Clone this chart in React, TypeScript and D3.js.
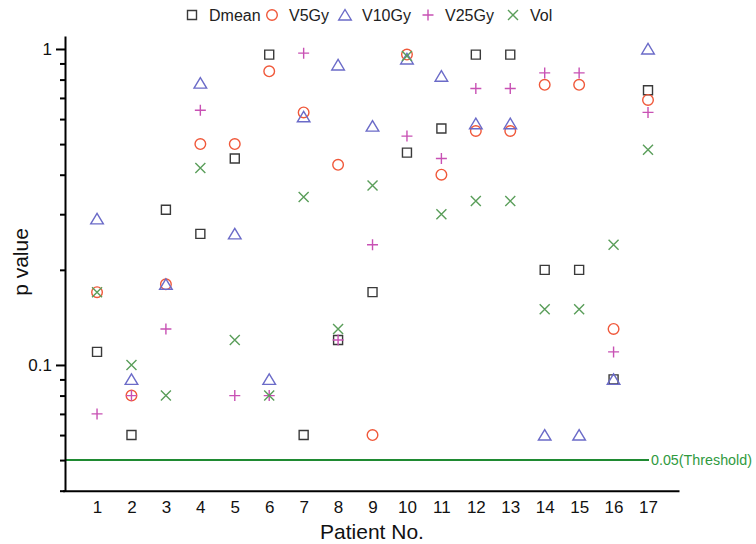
import React, { useEffect, useRef } from "react";
import * as d3 from "d3";

const patients = [1, 2, 3, 4, 5, 6, 7, 8, 9, 10, 11, 12, 13, 14, 15, 16, 17];
const dmean = [0.11, 0.06, 0.31, 0.26, 0.45, 0.96, 0.06, 0.12, 0.17, 0.47, 0.56, 0.96, 0.96, 0.2, 0.2, 0.09, 0.74];
const v5gy = [0.17, 0.08, 0.18, 0.5, 0.5, 0.85, 0.63, 0.43, 0.06, 0.96, 0.4, 0.55, 0.55, 0.77, 0.77, 0.13, 0.69];
const v10gy = [0.29, 0.09, 0.18, 0.78, 0.26, 0.09, 0.61, 0.89, 0.57, 0.93, 0.82, 0.58, 0.58, 0.06, 0.06, 0.09, 1.0];
const v25gy = [0.07, 0.08, 0.13, 0.64, 0.08, 0.08, 0.97, 0.12, 0.24, 0.53, 0.45, 0.75, 0.75, 0.84, 0.84, 0.11, 0.63];
const vol = [0.17, 0.1, 0.08, 0.42, 0.12, 0.08, 0.34, 0.13, 0.37, 0.95, 0.3, 0.33, 0.33, 0.15, 0.15, 0.24, 0.48];
const majorTicks = [0.1, 1];
const minorTicks = [0.04, 0.05, 0.06, 0.07, 0.08, 0.09, 0.2, 0.3, 0.4, 0.5, 0.6, 0.7, 0.8, 0.9];
const threshold = 0.05;

const series = [
  { name: "Dmean", values: dmean, shape: "square", color: "#3a3a3a" },
  { name: "V5Gy", values: v5gy, shape: "circle", color: "#f0583a" },
  { name: "V10Gy", values: v10gy, shape: "triangle", color: "#6b6bc8" },
  { name: "V25Gy", values: v25gy, shape: "plus", color: "#c851b4" },
  { name: "Vol", values: vol, shape: "cross", color: "#5a9e5a" },
];

const FONT = "'Liberation Sans', Arial, Helvetica, sans-serif";

const markerPath = (shape) => {
  if (shape === "square") return "M-4.5,-4.5H4.5V4.5H-4.5Z";
  if (shape === "triangle") return "M0,-5.5L6.3,5H-6.3Z";
  if (shape === "plus") return "M-5.5,0H5.5M0,-5.5V5.5";
  if (shape === "cross") return "M-5,-5L5,5M-5,5L5,-5";
  return d3.arc()({ innerRadius: 0, outerRadius: 5.3, startAngle: 0, endAngle: 2 * Math.PI });
};

const ScatterChart = ({ width, height }) => {
  const svgRef = useRef();

  useEffect(() => {
    const svg = d3.select(svgRef.current);
    svg.selectAll("*").remove();

    const xScale = d3.scaleLinear().domain([0, 17.9]).range([62.6, 679]);
    const yScale = d3.scaleLog().domain([0.04, 1.1]).range([490.7, 35.9]);
    const left = 65;

    // threshold line
    svg
      .append("line")
      .attr("x1", left)
      .attr("x2", 649)
      .attr("y1", yScale(threshold))
      .attr("y2", yScale(threshold))
      .attr("stroke", "#1f8a32")
      .attr("stroke-width", 2);

    svg
      .append("text")
      .attr("x", 651)
      .attr("y", yScale(threshold) + 5)
      .attr("font-family", FONT)
      .attr("font-size", 14.3)
      .attr("fill", "#2f9a3e")
      .text("0.05(Threshold)");

    // markers
    series.forEach((s) => {
      const g = svg.append("g");
      g.selectAll("path")
        .data(s.values)
        .enter()
        .append("path")
        .attr("transform", (d, i) => `translate(${xScale(patients[i])},${yScale(d)})`)
        .attr("d", markerPath(s.shape))
        .attr("fill", "none")
        .attr("stroke", s.color)
        .attr("stroke-width", 1.4);
    });

    // y axis
    const yAxis = svg.append("g").attr("transform", `translate(${left},0)`);
    yAxis
      .call(d3.axisLeft(yScale).tickValues(majorTicks).tickFormat(d3.format("")).tickSize(9).tickSizeOuter(0))
      .call((g) => g.select(".domain").attr("stroke-width", 2))
      .call((g) => g.selectAll(".tick line").attr("stroke-width", 2))
      .call((g) =>
        g.selectAll(".tick text").attr("font-size", 17).attr("font-family", FONT).attr("fill", "#111").attr("x", -13)
      );
    svg
      .append("g")
      .attr("transform", `translate(${left},0)`)
      .call(d3.axisLeft(yScale).tickValues(minorTicks).tickFormat("").tickSize(5).tickSizeOuter(0))
      .call((g) => g.select(".domain").remove())
      .call((g) => g.selectAll(".tick line").attr("stroke-width", 2));

    // x axis
    svg
      .append("g")
      .attr("transform", `translate(0,${yScale(0.04)})`)
      .call(d3.axisBottom(xScale).tickValues(patients).tickSize(0).tickSizeOuter(0).tickPadding(10))
      .call((g) => g.select(".domain").attr("stroke-width", 2))
      .call((g) => g.selectAll(".tick text").attr("font-size", 17).attr("font-family", FONT).attr("fill", "#111"));

    // axis titles
    svg
      .append("text")
      .attr("x", 372)
      .attr("y", 539)
      .attr("text-anchor", "middle")
      .attr("font-family", FONT)
      .attr("font-size", 21)
      .attr("fill", "#111")
      .text("Patient No.");

    svg
      .append("text")
      .attr("transform", "translate(28,262) rotate(-90)")
      .attr("text-anchor", "middle")
      .attr("font-family", FONT)
      .attr("font-size", 21)
      .attr("fill", "#111")
      .text("p value");

    // legend
    const legendX = [192, 272, 345, 428, 513];
    series.forEach((s, i) => {
      const lg = svg.append("g").attr("transform", `translate(${legendX[i]},15)`);
      lg.append("path")
        .attr("d", markerPath(s.shape))
        .attr("fill", "none")
        .attr("stroke", s.color)
        .attr("stroke-width", 1.4);
      lg.append("text")
        .attr("x", 17)
        .attr("y", 6)
        .attr("font-family", FONT)
        .attr("font-size", 16)
        .attr("fill", "#222")
        .text(s.name);
    });
  }, []);

  return <svg ref={svgRef} width={width} height={height} style={{ display: "block" }}></svg>;
};

export default function App() {
  return (
    <div style={{ position: "absolute", left: 0, top: 0, width: 756, height: 544, overflow: "hidden" }}>
      <ScatterChart width={756} height={544} />
    </div>
  );
}
